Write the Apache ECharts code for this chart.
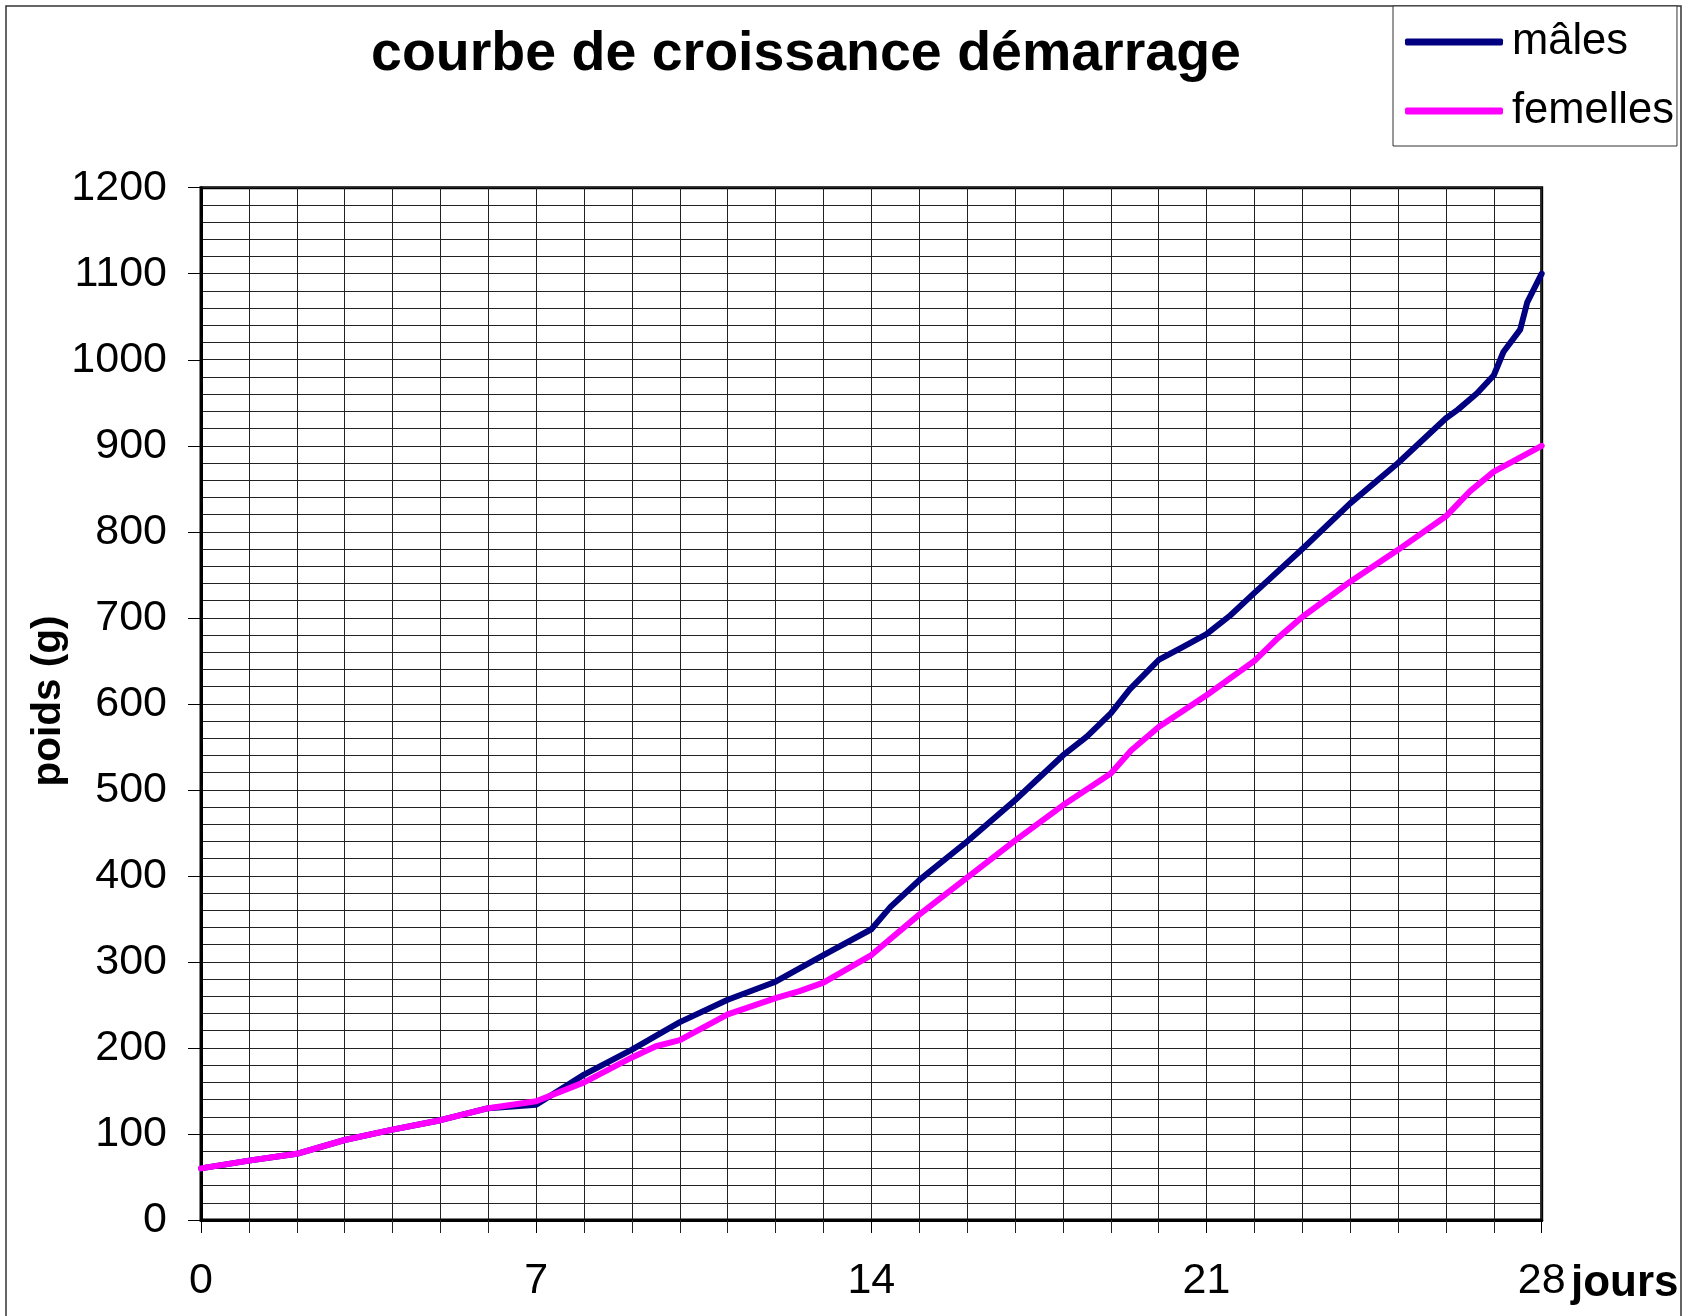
<!DOCTYPE html>
<html>
<head>
<meta charset="utf-8">
<script src="https://cdn.jsdelivr.net/npm/echarts@6/dist/echarts.min.js"></script>
<style>
  html, body { margin: 0; padding: 0; background: #fff; }
  #chart { width: 1701px; height: 1316px; }
</style>
</head>
<body>
<div id="chart"></div>
<script>
// ---- data ----
var titleText = 'courbe de croissance démarrage';
var seriesNames = ['mâles', 'femelles'];
var xTickLabels = [0, 7, 14, 21, 28];
var yTickLabels = [0, 100, 200, 300, 400, 500, 600, 700, 800, 900, 1000, 1100, 1200];

var maleDays    = [0, 1, 2, 3, 4, 5, 6, 7, 8, 9, 10, 11, 12, 13, 14, 14.4, 15, 16, 17, 18, 18.5, 19, 19.4, 19.7, 20, 20.5, 21, 21.5, 22, 23, 24, 25, 26, 26.25, 26.65, 27, 27.2, 27.55, 27.7, 28];
var maleWeights = [60, 69, 77, 93, 105, 116, 130, 134, 169, 198, 230, 256, 277, 308, 338, 364, 395, 440, 488, 540, 562, 589, 617, 634, 651, 666, 681, 703, 729, 780, 833, 880, 932, 942, 961, 982, 1009, 1035, 1067, 1100];

var femaleDays    = [0, 1, 2, 3, 4, 5, 6, 7, 8, 9, 9.5, 10, 11, 12, 12.5, 13, 14, 15, 16, 17, 18, 19, 19.43, 20, 21, 22, 22.5, 23, 24, 25, 26, 26.5, 27, 28];
var femaleWeights = [60, 69, 77, 93, 105, 116, 130, 138, 160, 189, 202, 209, 239, 258, 266, 276, 308, 355, 398, 441, 482, 519, 546, 573, 610, 650, 677, 701, 742, 779, 818, 847, 870, 900];

function pairs(xs, ys) { return xs.map(function (x, i) { return [x, ys[i]]; }); }

var FONT = "'Liberation Sans', Arial, Helvetica, sans-serif";
var chart = echarts.init(document.getElementById('chart'), null, { renderer: 'canvas' });

var option = {
  backgroundColor: '#fff',
  animation: false,
  grid: {
    left: 201, top: 187.7, width: 1340.7, height: 1032.3,
    show: true, borderColor: '#000', borderWidth: 3, backgroundColor: 'transparent'
  },
  legend: {
    data: seriesNames,
    orient: 'vertical',
    left: 1393, top: 6,
    padding: [13, 3, 12, 12],
    itemGap: 23,
    itemWidth: 98, itemHeight: 7,
    icon: 'roundRect',
    borderColor: '#333', borderWidth: 1, borderRadius: 0,
    backgroundColor: '#fff',
    textStyle: { fontFamily: FONT, fontSize: 43.5, color: '#000', lineHeight: 46, padding: [0, 0, 0, 4] }
  },
  xAxis: {
    type: 'value', min: 0, max: 28, interval: 7,
    axisLine: { show: true, onZero: false, lineStyle: { color: '#000', width: 3 } },
    axisTick: { show: true, length: 13, lineStyle: { color: '#000', width: 1 } },
    minorTick: { show: true, splitNumber: 7, length: 13, lineStyle: { color: '#222', width: 1 } },
    splitLine: { show: true, lineStyle: { color: '#222', width: 1 } },
    minorSplitLine: { show: true, lineStyle: { color: '#222', width: 1 } },
    axisLabel: {
      margin: 40, fontFamily: FONT, fontSize: 43, color: '#000',
      formatter: function (v) { return xTickLabels.indexOf(v) >= 0 ? String(v) : ''; }
    }
  },
  yAxis: {
    type: 'value', min: 0, max: 1200, interval: 100,
    axisLine: { show: true, onZero: false, lineStyle: { color: '#000', width: 3 } },
    axisTick: { show: true, length: 13, lineStyle: { color: '#000', width: 1 } },
    minorTick: { show: false, splitNumber: 5 },
    splitLine: { show: true, lineStyle: { color: '#222', width: 1 } },
    minorSplitLine: { show: true, lineStyle: { color: '#222', width: 1 } },
    axisLabel: {
      margin: 34, fontFamily: FONT, fontSize: 43, color: '#000',
      formatter: function (v) { return yTickLabels.indexOf(v) >= 0 ? String(v) : ''; }
    }
  },
  series: [
    {
      name: seriesNames[0], type: 'line', data: pairs(maleDays, maleWeights),
      showSymbol: false, symbol: 'none', smooth: false, z: 3,
      color: '#000080',
      lineStyle: { color: '#000080', width: 6, cap: 'round', join: 'round' }
    },
    {
      name: seriesNames[1], type: 'line', data: pairs(femaleDays, femaleWeights),
      showSymbol: false, symbol: 'none', smooth: false, z: 4,
      color: '#FF00FF',
      lineStyle: { color: '#FF00FF', width: 6, cap: 'round', join: 'round' }
    }
  ],
  graphic: [
    {
      type: 'rect', silent: true, z: -1,
      shape: { x: 6, y: 6, width: 1675, height: 1340 },
      style: { fill: 'none', stroke: '#333', lineWidth: 1.5 }
    },
    {
      type: 'text', x: 806, y: 55,
      style: { text: titleText, font: 'bold 55.5px ' + FONT, fill: '#000', align: 'center', verticalAlign: 'middle' }
    },
    {
      type: 'text', x: 1571, y: 1284,
      style: { text: 'jours', font: 'bold 44px ' + FONT, fill: '#000', align: 'left', verticalAlign: 'middle' }
    },
    {
      type: 'text', x: 49, y: 701, rotation: Math.PI / 2,
      style: { text: 'poids (g)', font: 'bold 40.5px ' + FONT, fill: '#000', align: 'center', verticalAlign: 'middle' }
    }
  ]
};
chart.setOption(option);
</script>
</body>
</html>
